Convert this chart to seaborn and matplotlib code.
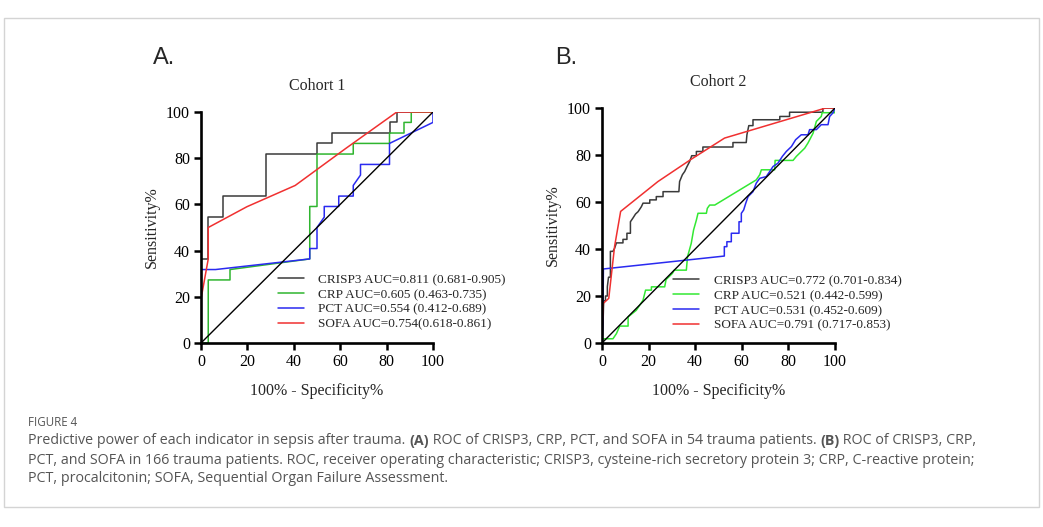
import matplotlib
matplotlib.use("Agg")
import matplotlib.pyplot as plt
import seaborn as sns
from matplotlib.patches import Rectangle

# Cohort 1 (54 trauma patients) - ROC points
c1_crisp3_x = [0, 0, 3.125, 3.125, 9.375, 9.375, 28.125, 28.125, 50, 50, 56.25, 56.25, 81.25, 81.25, 84.375, 84.375, 100]
c1_crisp3_y = [0, 36.4, 36.4, 54.5, 54.5, 63.6, 63.6, 81.8, 81.8, 86.4, 86.4, 90.9, 90.9, 95.5, 95.5, 100, 100]
c1_crp_x = [0, 3.125, 3.125, 12.5, 12.5, 46.875, 46.875, 50, 50, 65.625, 65.625, 81.25, 81.25, 87.5, 87.5, 90.625, 90.625, 100]
c1_crp_y = [0, 0, 27.3, 27.3, 31.8, 36.4, 59.1, 59.1, 81.8, 81.8, 86.4, 86.4, 90.9, 90.9, 95.5, 95.5, 100, 100]
c1_pct_x = [0, 0, 6.25, 46.875, 46.875, 50, 50, 53.125, 53.125, 59.375, 59.375, 65.625, 65.625, 68.75, 68.75, 81.25, 81.25, 100, 100]
c1_pct_y = [0, 31.8, 31.8, 36.4, 40.9, 40.9, 50, 54.5, 59.1, 59.1, 63.6, 63.6, 68.2, 72.7, 77.3, 77.3, 86.4, 95.5, 100]
c1_sofa_x = [0, 3.125, 3.125, 19.8, 40.6, 62.5, 84.4, 100]
c1_sofa_y = [19, 36.4, 50, 59.0, 68.2, 84.3, 100, 100]

# Cohort 2 (166 trauma patients)
c2_crisp3_x = [0, 0.5, 0.7, 1.5, 1.5, 2.3, 2.3, 2.8, 3.6, 3.6, 4.7, 5.4, 6.2, 9.0, 9.0, 10.7, 10.7, 12.2, 12.2,
               13.3, 14.4, 15.5, 16.9, 17.6, 20.5, 20.5, 23.3, 23.3, 26.2, 26.2, 33.0, 33.3, 34.5, 35.5, 36.5,
               37.6, 38.3, 38.5, 40.5, 40.5, 43.3, 43.3, 56.2, 56.2, 61.9, 62.2, 63.0, 64.8, 64.8, 76.3, 76.3,
               80.5, 80.5, 94.8, 94.8, 100]
c2_crisp3_y = [0, 10, 18, 18, 20, 20, 24, 28, 28, 39, 39, 40.3, 42.6, 42.6, 44.1, 44.1, 46.7, 46.7, 51.6,
               53.2, 54.9, 55.9, 58.0, 59.5, 59.5, 60.9, 60.9, 62.3, 62.3, 64.4, 64.4, 68.7, 71.6, 73.0, 75.1,
               77.2, 79.1, 79.7, 79.7, 81.5, 81.5, 83.4, 83.4, 85.3, 85.3, 88.6, 92.5, 92.5, 95.0, 95.0, 96.4,
               96.4, 98.2, 98.2, 100, 100]
c2_crp_x = [0, 0.4, 4.7, 6.2, 7.6, 11.2, 11.2, 14.7, 16.2, 17.6, 18.7, 21.2, 21.2, 26.9, 27.5, 30.2, 31.0,
            36.2, 36.7, 38.3, 39.3, 40.5, 41.2, 44.8, 45.2, 46.2, 48.4, 66.2, 67.7, 68.4, 74.1, 74.3, 82.0,
            83.4, 87.0, 88.4, 90.6, 92.0, 94.1, 94.5, 100, 100]
c2_crp_y = [0, 1.8, 1.8, 4.0, 7.2, 7.2, 11.1, 13.9, 16.1, 18.2, 22.5, 22.5, 23.9, 23.9, 27.0, 29.6, 31.0,
            31.0, 36.7, 42.4, 48.1, 52.3, 55.2, 55.2, 57.3, 58.7, 58.7, 69.4, 71.6, 73.7, 73.7, 77.7, 77.7,
            79.4, 82.9, 85.1, 89.3, 94.3, 96.4, 98.0, 98.0, 100]
c2_pct_x = [0, 0.4, 0.6, 52.5, 52.5, 53.6, 53.6, 55.5, 55.5, 58.8, 58.8, 59.8, 59.8, 60.8, 61.7, 62.7, 64.8,
            66.2, 67.7, 70.5, 72.0, 73.4, 75.5, 77.4, 79.1, 81.3, 83.1, 85.5, 88.4, 89.1, 92.0, 94.1, 97.0,
            97.7, 99.1, 100]
c2_pct_y = [0, 9.5, 31.5, 37.0, 41.0, 41.0, 43.1, 43.1, 46.7, 46.7, 51.6, 51.6, 55.2, 56.6, 59.5, 62.3, 64.4,
            68.0, 70.1, 70.8, 73.0, 75.1, 76.5, 79.4, 81.5, 83.6, 86.5, 88.6, 88.6, 90.8, 90.8, 92.9, 92.9,
            96.4, 97.9, 100]
c2_sofa_x = [0, 0.6, 2.9, 5.4, 8.0, 24.0, 38.3, 52.6, 96.0, 100]
c2_sofa_y = [5, 16.9, 19.0, 41.1, 56.0, 68.7, 78.2, 87.2, 100, 100]

c1_labels = ["CRISP3 AUC=0.811 (0.681-0.905)", "CRP AUC=0.605 (0.463-0.735)",
             "PCT AUC=0.554 (0.412-0.689)", "SOFA AUC=0.754(0.618-0.861)"]
c2_labels = ["CRISP3 AUC=0.772 (0.701-0.834)", "CRP AUC=0.521 (0.442-0.599)",
             "PCT AUC=0.531 (0.452-0.609)", "SOFA AUC=0.791 (0.717-0.853)"]
ticks = [0, 20, 40, 60, 80, 100]
diag = [0, 100]

sns.set_theme(style="ticks")
plt.rcParams["font.family"] = ["Liberation Serif", "DejaVu Serif"]

W, H = 1043, 527
fig = plt.figure(figsize=(W / 100, H / 100), dpi=100)
fig.patch.set_facecolor("white")
fig.patches.append(Rectangle((3.5 / W, 1 - 507 / H), 1035 / W, 489 / H, transform=fig.transFigure,
                             fill=False, edgecolor="#d4d4d4", lw=1.0))


def px_box(left, top, right, bottom):
    return [left / W, 1 - bottom / H, (right - left) / W, (bottom - top) / H]


def draw_panel(ax, curves, labels, colors, title, legend_xy):
    for (x, y), lab, col in zip(curves, labels, colors):
        sns.lineplot(x=x, y=y, sort=False, estimator=None, ax=ax, color=col, lw=1.1, label=lab)
    sns.lineplot(x=diag, y=diag, sort=False, estimator=None, ax=ax, color="black", lw=1.0)
    ax.set_xlim(0, 100)
    ax.set_ylim(0, 100)
    ax.set_xticks(ticks)
    ax.set_yticks(ticks)
    ax.tick_params(direction="out", length=5, width=1.8, labelsize=11.5, pad=3, colors="black")
    for s in ["left", "bottom"]:
        ax.spines[s].set_linewidth(1.9)
        ax.spines[s].set_color("black")
    sns.despine(ax=ax)
    ax.set_xlabel("100% - Specificity%", fontsize=11.5, labelpad=9)
    ax.set_ylabel("Sensitivity%", fontsize=11.5, labelpad=4)
    ax.set_title(title, fontsize=11.5, pad=16)
    ax.legend(loc="upper left", bbox_to_anchor=legend_xy, frameon=False, fontsize=9.5,
              borderpad=0, borderaxespad=0, handlelength=2.0, handletextpad=1.1, labelspacing=0.2)
    ax.patch.set_alpha(0)


ax1 = fig.add_axes(px_box(201, 112, 433, 343))
draw_panel(ax1, [(c1_crisp3_x, c1_crisp3_y), (c1_crp_x, c1_crp_y), (c1_pct_x, c1_pct_y), (c1_sofa_x, c1_sofa_y)],
           c1_labels, ["#3a3a3a", "#2fb52f", "#2a2af0", "#f03030"], "Cohort 1", (0.33, 0.30))

ax2 = fig.add_axes(px_box(602, 108, 835, 343))
draw_panel(ax2, [(c2_crisp3_x, c2_crisp3_y), (c2_crp_x, c2_crp_y), (c2_pct_x, c2_pct_y), (c2_sofa_x, c2_sofa_y)],
           c2_labels, ["#3a3a3a", "#33e833", "#2a2af0", "#f03030"], "Cohort 2", (0.305, 0.29))

fig.text(153 / W, 1 - 58 / H, "A.", family="Liberation Sans", fontsize=17, va="center", ha="left")
fig.text(555 / W, 1 - 58 / H, "B.", family="Liberation Sans", fontsize=17, va="center", ha="left")

# caption
cap_font = "Open Sans"
cap_col = "#555555"
fig.text(28 / W, 1 - 422 / H, "FIGURE 4", family=cap_font, fontsize=8.3, color="#555555", va="center")

lines = [
    [("Predictive power of each indicator in sepsis after trauma. ", "normal"), ("(A)", "bold"),
     (" ROC of CRISP3, CRP, PCT, and SOFA in 54 trauma patients. ", "normal"), ("(B)", "bold"),
     (" ROC of CRISP3, CRP,", "normal")],
    [("PCT, and SOFA in 166 trauma patients. ROC, receiver operating characteristic; CRISP3, cysteine-rich "
      "secretory protein 3; CRP, C-reactive protein;", "normal")],
    [("PCT, procalcitonin; SOFA, Sequential Organ Failure Assessment.", "normal")],
]
line_y = [441, 460, 478]
renderer = fig.canvas.get_renderer()
for pieces, yy in zip(lines, line_y):
    xpos = 28
    for txt, wt in pieces:
        t = fig.text(xpos / W, 1 - yy / H, txt, family=cap_font, fontsize=10.3, color=cap_col,
                     weight=wt, va="center", ha="left")
        xpos += t.get_window_extent(renderer).width

fig.savefig("out.png", dpi=100, facecolor="white")
